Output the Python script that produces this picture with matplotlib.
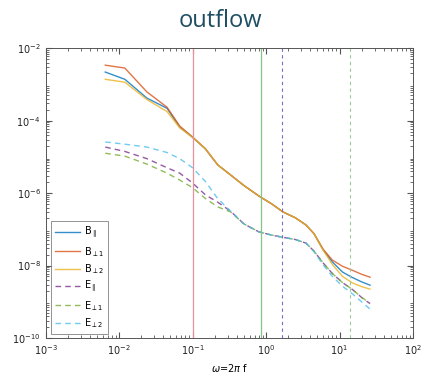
import numpy as np
import matplotlib
matplotlib.use("Agg")
import matplotlib.pyplot as plt

freq = [0.0065, 0.012, 0.024, 0.045, 0.067, 0.1, 0.15, 0.22, 0.33, 0.5, 0.8,
        1.2, 1.7, 2.5, 3.5, 4.5, 6, 8, 11, 15, 20, 26]

# log10 of power
B_par = [-2.66, -2.86, -3.38, -3.66, -4.18, -4.46, -4.78, -5.22, -5.5, -5.79, -6.08,
         -6.3, -6.52, -6.68, -6.88, -7.12, -7.57, -7.9, -8.18, -8.33, -8.45, -8.54]
B_perp1 = [-2.47, -2.55, -3.21, -3.63, -4.15, -4.45, -4.78, -5.22, -5.5, -5.79, -6.08,
           -6.3, -6.52, -6.68, -6.88, -7.12, -7.55, -7.85, -8.02, -8.13, -8.24, -8.32]
B_perp2 = [-2.86, -2.94, -3.42, -3.75, -4.2, -4.46, -4.78, -5.22, -5.5, -5.79, -6.08,
           -6.3, -6.52, -6.68, -6.88, -7.12, -7.58, -7.97, -8.3, -8.48, -8.58, -8.65]
E_par = [-4.73, -4.85, -5.05, -5.3, -5.45, -5.72, -6.05, -6.25, -6.5, -6.85, -7.07,
         -7.16, -7.22, -7.28, -7.38, -7.6, -7.93, -8.22, -8.47, -8.66, -8.88, -9.05]
E_perp1 = [-4.9, -4.98, -5.2, -5.45, -5.64, -5.85, -6.15, -6.38, -6.52, -6.85, -7.07,
           -7.16, -7.22, -7.28, -7.38, -7.6, -7.93, -8.22, -8.47, -8.66, -8.88, -9.03]
E_perp2 = [-4.59, -4.65, -4.73, -4.88, -5.05, -5.3, -5.68, -6.15, -6.5, -6.85, -7.07,
           -7.16, -7.22, -7.28, -7.38, -7.62, -7.98, -8.3, -8.57, -8.78, -9.0, -9.2]

vlines_solid = [0.1, 0.85]
vlines_dashed = [1.65, 13.8]

labels = [r'B$_{\parallel}$', r'B$_{\perp 1}$', r'B$_{\perp 2}$',
          r'E$_{\parallel}$', r'E$_{\perp 1}$', r'E$_{\perp 2}$']
colors = ['#0072BD', '#D95319', '#EDB120', '#7E2F8E', '#77AC30', '#4DBEEE']

fig = plt.figure(figsize=(4.23, 3.82), dpi=100)
ax = fig.add_axes([0.1076, 0.115, 0.8688, 0.759])

f = np.array(freq)
series = [B_par, B_perp1, B_perp2, E_par, E_perp1, E_perp2]
for i, (s, c, lab) in enumerate(zip(series, colors, labels)):
    ls = '-' if i < 3 else (0, (4, 3))
    ax.plot(f, 10.0 ** np.array(s), color=c, lw=1.0, ls=ls, alpha=0.8, label=lab)

ax.axvline(vlines_solid[0], color='#E8909C', lw=0.9)
ax.axvline(vlines_solid[1], color='#86C486', lw=0.9)
ax.axvline(vlines_dashed[0], color='#7070C8', lw=0.8, ls=(0, (3, 3)))
ax.axvline(vlines_dashed[1], color='#A0C8A0', lw=0.8, ls=(0, (3, 3)))

ax.set_xscale('log')
ax.set_yscale('log')
ax.set_xlim(1e-3, 1e2)
ax.set_ylim(1e-10, 1e-2)
ax.set_yticks([1e-10, 1e-8, 1e-6, 1e-4, 1e-2])
ax.set_xticks([1e-3, 1e-2, 1e-1, 1e0, 1e1, 1e2])
ax.tick_params(which='both', direction='in', top=True, right=True, labelsize=7,
               color='#555555', labelcolor='#222222')
ax.tick_params(which='major', length=4)
ax.tick_params(which='minor', length=2)
for sp in ax.spines.values():
    sp.set_color('#555555')
    sp.set_linewidth(0.7)

ax.set_xlabel(r'$\omega$=2$\pi$ f', fontsize=7, labelpad=4)
fig.text(0.522, 0.945, 'outflow', ha='center', va='center', fontsize=17,
         color='#1F4E63', family='Open Sans')

leg = ax.legend(loc='lower left', bbox_to_anchor=(0.015, 0.015), borderaxespad=0,
                fontsize=7, handlelength=2.6, frameon=True, fancybox=False,
                edgecolor='#777777', labelspacing=0.35, handletextpad=0.4)
leg.get_frame().set_linewidth(0.7)

fig.savefig('out.png', dpi=100)
